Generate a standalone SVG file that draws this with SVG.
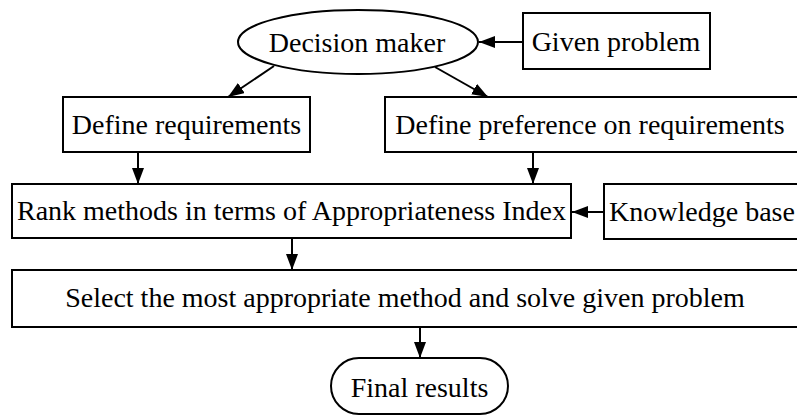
<svg xmlns="http://www.w3.org/2000/svg" width="797" height="417" viewBox="0 0 797 417">
  <defs>
    <style>
      .shape { fill: #ffffff; stroke: #000000; stroke-width: 2; }
      .label { font-family: "Liberation Serif", "Times New Roman", serif; font-size: 28px; fill: #000000; text-anchor: middle; }
      .edge { fill: none; stroke: #000000; stroke-width: 2; marker-end: url(#arrow); }
    </style>
    <marker id="arrow" viewBox="0 0 16 12" refX="16" refY="6" markerWidth="16" markerHeight="12" markerUnits="userSpaceOnUse" orient="auto">
      <path d="M0,0 L16,6 L0,12 Z" fill="#000000"/>
    </marker>
  </defs>

  <rect width="797" height="417" fill="#ffffff"/>

  <g id="decision-maker">
    <ellipse class="shape" cx="358" cy="42" rx="120" ry="32"/>
    <text class="label" x="357" y="51.5">Decision maker</text>
  </g>

  <g id="given-problem">
    <rect class="shape" x="523" y="13" width="187" height="56"/>
    <text class="label" x="616" y="50.5">Given problem</text>
  </g>

  <g id="define-requirements">
    <rect class="shape" x="63" y="97" width="247" height="55"/>
    <text class="label" x="186.5" y="133.5">Define requirements</text>
  </g>

  <g id="define-preference">
    <rect class="shape" x="385" y="97" width="420" height="55"/>
    <text class="label" x="590" y="133.5">Define preference on requirements</text>
  </g>

  <g id="rank-methods">
    <rect class="shape" x="12" y="184" width="559" height="54"/>
    <text class="label" x="291.5" y="219.5">Rank methods in terms of Appropriateness Index</text>
  </g>

  <g id="knowledge-base">
    <rect class="shape" x="604" y="184" width="200" height="55"/>
    <text class="label" x="702" y="220.5">Knowledge base</text>
  </g>

  <g id="select-method">
    <rect class="shape" x="12" y="270" width="792" height="57"/>
    <text class="label" x="405" y="306.5">Select the most appropriate method and solve given problem</text>
  </g>

  <g id="final-results">
    <rect class="shape" x="331" y="358" width="177" height="56" rx="28" ry="28"/>
    <text class="label" x="419.5" y="396.5">Final results</text>
  </g>

  <g id="connectors">
    <line class="edge" x1="523" y1="42" x2="479" y2="42"/>
    <line class="edge" x1="274" y1="66" x2="228" y2="97"/>
    <line class="edge" x1="435" y1="67" x2="488" y2="97"/>
    <line class="edge" x1="138" y1="152" x2="138" y2="184"/>
    <line class="edge" x1="533" y1="152" x2="533" y2="184"/>
    <line class="edge" x1="604" y1="212" x2="572" y2="212"/>
    <line class="edge" x1="292" y1="238" x2="292" y2="270"/>
    <line class="edge" x1="420" y1="327" x2="420" y2="358"/>
  </g>
</svg>
